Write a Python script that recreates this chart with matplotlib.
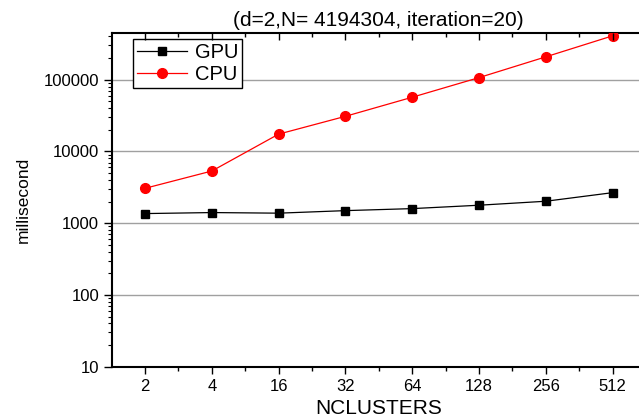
import matplotlib

matplotlib.use('Agg')

import matplotlib.pyplot as plt
import numpy as np
from matplotlib.ticker import FixedLocator, LogLocator, NullFormatter

plt.rcParams['font.family'] = ['Liberation Sans', 'DejaVu Sans']

# values (milliseconds)
nclusters = ['2', '4', '16', '32', '64', '128', '256', '512']
gpu_ms = [1360, 1405, 1378, 1495, 1595, 1778, 2020, 2660]
cpu_ms = [3060, 5330, 17400, 30800, 56800, 106600, 207500, 407000]
y_ticks = [10, 100, 1000, 10000, 100000]
title = '(d=2,N= 4194304, iteration=20)'

fig = plt.figure(figsize=(6.39, 4.18), dpi=100)
ax = fig.add_axes([0.1748, 0.1227, 0.836, 0.799])

x = np.arange(len(nclusters))
ax.plot(x, gpu_ms, color='black', lw=0.9, marker='s', ms=6, label='GPU', zorder=3)
ax.plot(x, cpu_ms, color='red', lw=0.9, marker='o', ms=7, label='CPU', zorder=3)

ax.set_yscale('log')
ax.set_ylim(10, 450000)
ax.set_xlim(-0.5, len(nclusters) - 0.5)

minor_x = np.arange(0.5, len(nclusters) - 1, 1)
ax.set_xticks(x)
ax.set_xticklabels(nclusters)
ax.xaxis.set_minor_locator(FixedLocator(minor_x))
ax.set_yticks(y_ticks)
ax.set_yticklabels([str(v) for v in y_ticks])
ax.yaxis.set_minor_locator(LogLocator(base=10, subs=np.arange(2, 10)))
ax.yaxis.set_minor_formatter(NullFormatter())

ax.grid(axis='y', which='major', color='#a0a0a0', lw=1.0)
ax.set_axisbelow(True)

for s in ax.spines.values():
    s.set_linewidth(1.5)

ax.tick_params(axis='both', which='major', labelsize=12, width=1.0)
ax.tick_params(axis='x', which='major', direction='out', length=5, pad=4)
ax.tick_params(axis='x', which='minor', direction='out', length=3, width=1.0)
ax.tick_params(axis='y', which='major', direction='out', length=6, pad=3)
ax.tick_params(axis='y', which='minor', direction='out', length=3, width=0.8)

# top ticks point inward in the reference, bottom ones outward
topax = ax.twiny()
topax.set_xlim(ax.get_xlim())
topax.set_xticks(x)
topax.set_xticklabels([])
topax.xaxis.set_minor_locator(FixedLocator(minor_x))
topax.tick_params(axis='x', which='major', direction='in', length=5, width=1.0)
topax.tick_params(axis='x', which='minor', direction='in', length=3, width=1.0)
for s in topax.spines.values():
    s.set_visible(False)

ax.set_title(title, fontsize=15, pad=5, y=1.0)
ax.set_xlabel('NCLUSTERS', fontsize=15)
ax.set_ylabel('millisecond', fontsize=12.5)
ax.xaxis.set_label_coords(0.5, -0.096)
ax.yaxis.set_label_coords(-0.152, 0.5)

leg = ax.legend(loc='upper left', bbox_to_anchor=(0.039, 0.98), borderaxespad=0,
                fontsize=14.5, fancybox=False, framealpha=1, edgecolor='black',
                handlelength=2.5, handletextpad=0.4, borderpad=0.2, labelspacing=0.12)
leg.get_frame().set_linewidth(1.0)

fig.savefig('out.png', dpi=100)
